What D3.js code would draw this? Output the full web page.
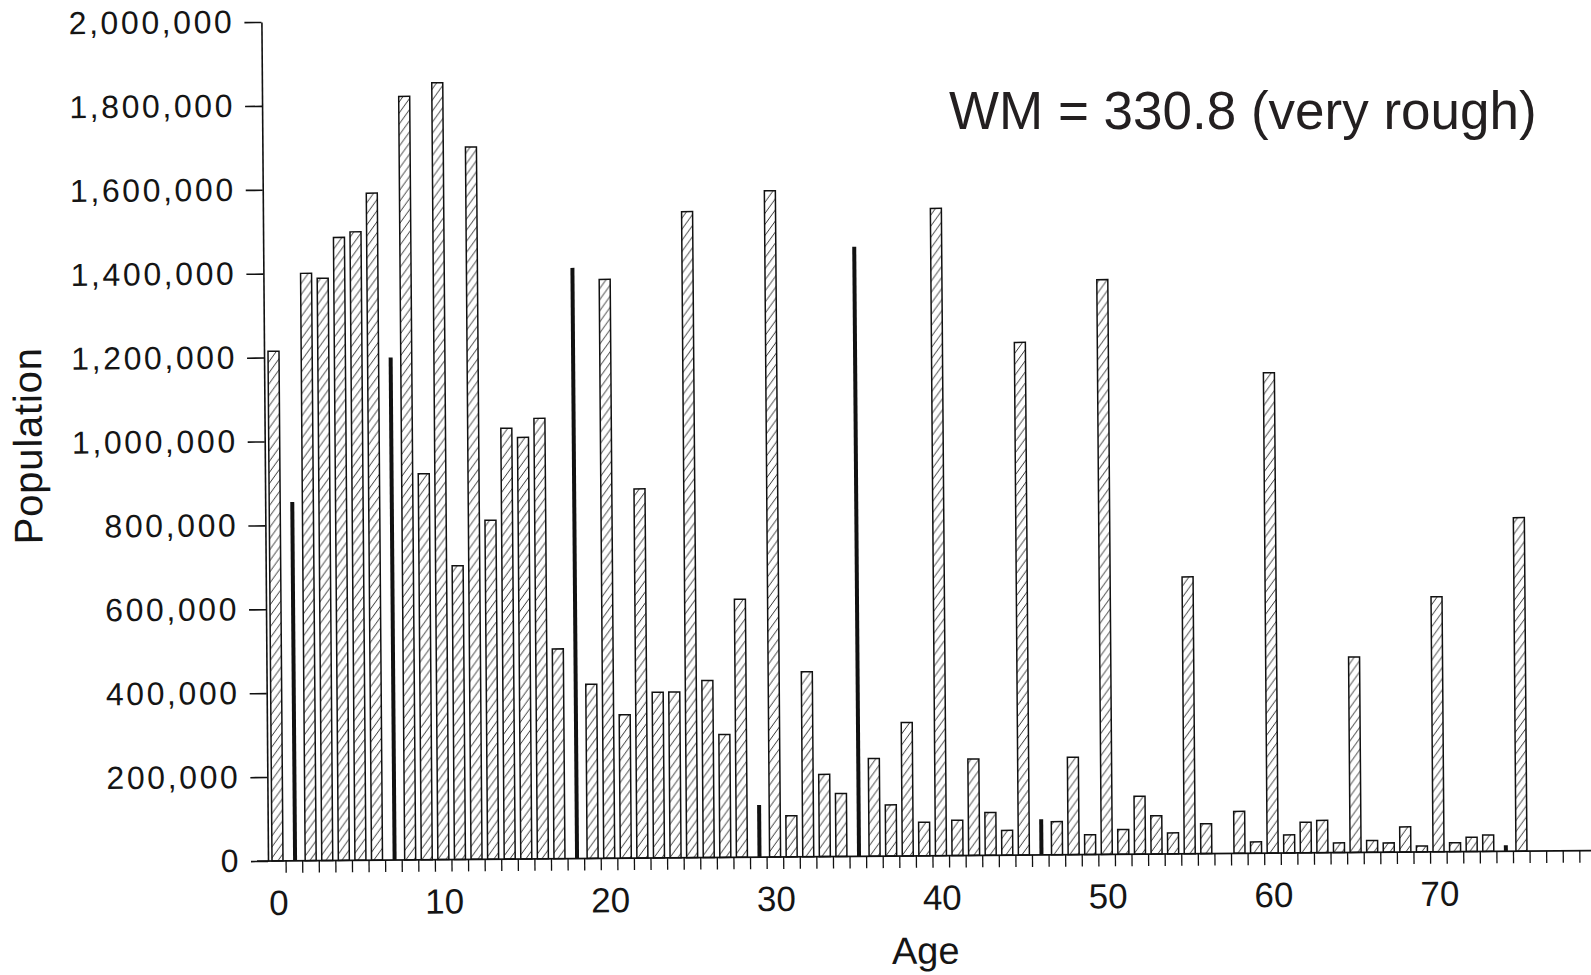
<!DOCTYPE html>
<html>
<head>
<meta charset="utf-8">
<script src="https://cdn.jsdelivr.net/npm/d3@7/dist/d3.min.js"></script>
<style>
  body { margin: 0; background: #fff; }
  svg text { font-family: "Liberation Sans", Arial, sans-serif; fill: #151515; }
</style>
</head>
<body>
<script>
// single years of age, last one is 75
let ages = [0, 1, 2, 3, 4, 5, 6, 7, 8, 9, 10, 11, 12, 13, 14, 15, 16, 17, 18, 19,
  20, 21, 22, 23, 24, 25, 26, 27, 28, 29, 30, 31, 32, 33, 34, 35, 36, 37, 38, 39,
  40, 41, 42, 43, 44, 45, 46, 47, 48, 49, 50, 51, 52, 53, 54, 55, 56, 57, 58, 59,
  60, 61, 62, 63, 64, 65, 66, 67, 68, 69, 70, 71, 72, 73, 74, 75];

let population = [1215000, 855000, 1400000, 1388000, 1485000, 1498000, 1590000, 1198000, 1820000, 920000,
  1852000, 700000, 1698000, 808000, 1027000, 1005000, 1050000, 500000, 1408000, 415000,
  1380000, 342000, 880000, 395000, 395000, 1540000, 422000, 293000, 615000, 124000,
  1588000, 98000, 441000, 196000, 150000, 1453000, 233000, 122000, 318000, 80000,
  1543000, 84000, 230000, 102000, 59000, 1222000, 85000, 79000, 232000, 47000,
  1370000, 59000, 138000, 91000, 50000, 660000, 71000, 0, 100000, 27000,
  1145000, 43000, 73000, 77000, 23000, 466000, 28000, 22000, 60000, 14000,
  608000, 21000, 34000, 39000, 14000, 795000];

// ages drawn as thin solid bars
let blackAges = [1, 7, 18, 29, 35, 46, 74];

let xLabels = [0, 10, 20, 30, 40, 50, 60, 70];
let yTicks = [0, 200000, 400000, 600000, 800000, 1000000, 1200000, 1400000, 1600000, 1800000, 2000000];

let width = 1591,
  height = 975,
  pivotX = 262,
  axisX = 268,
  axisY = 861,
  barWidth = 11,
  blackWidth = 4;

// x gives the left edge of each year's bar
let x = d3.scaleLinear().domain([0, 75]).range([272, 1516]);
let y = d3.scaleLinear().domain([0, 2000000]).range([axisY, 22]);

let svg = d3
  .select("body")
  .append("svg")
  .attr("width", width)
  .attr("height", height);

let defs = svg.append("defs");
let hatch = defs
  .append("pattern")
  .attr("id", "hatch")
  .attr("patternUnits", "userSpaceOnUse")
  .attr("width", 8)
  .attr("height", 11);
hatch.append("rect").attr("width", 8).attr("height", 11).attr("fill", "#fff");
hatch
  .append("path")
  .attr("d", "M0,11L8,0M-0.8,1.1L0.8,-1.1M7.2,12.1L8.8,9.9")
  .attr("stroke", "#1a1a1a")
  .attr("stroke-width", 0.9);

// the scan is tilted a little, so is the chart
let chart = svg
  .append("g")
  .attr("transform", "rotate(-0.45," + pivotX + "," + axisY + ")");

let rows = ages.map((a, i) => ({ age: a, value: population[i], black: blackAges.includes(a) }));

chart
  .append("g")
  .selectAll("rect")
  .data(rows.filter((d) => !d.black && d.value > 0))
  .enter()
  .append("rect")
  .attr("x", (d) => x(d.age))
  .attr("y", (d) => y(d.value))
  .attr("width", barWidth)
  .attr("height", (d) => axisY - y(d.value))
  .attr("fill", "url(#hatch)")
  .attr("stroke", "#111")
  .attr("stroke-width", 1.5);

chart
  .append("g")
  .selectAll("rect")
  .data(rows.filter((d) => d.black))
  .enter()
  .append("rect")
  .attr("x", (d) => x(d.age) + 6.5 - blackWidth / 2)
  .attr("y", (d) => y(d.value))
  .attr("width", blackWidth)
  .attr("height", (d) => axisY - y(d.value))
  .attr("fill", "#111");

// y axis
let yAxis = chart
  .append("g")
  .attr("transform", "translate(" + axisX + ",0)")
  .call(
    d3.axisLeft(y)
      .tickValues(yTicks)
      .tickSize(17)
      .tickSizeOuter(0)
      .tickPadding(10)
      .tickFormat(d3.format(","))
  );
yAxis.attr("font-family", null);
yAxis.select(".domain").attr("stroke", "#111").attr("stroke-width", 1.6);
yAxis.selectAll(".tick line").attr("stroke", "#111").attr("stroke-width", 1.6);
yAxis
  .selectAll(".tick text")
  .attr("font-size", 32)
  .attr("letter-spacing", 2.6)
  .attr("fill", "#151515");

// x axis: base line, one tick per year boundary, labels every ten years
chart
  .append("line")
  .attr("x1", pivotX - 5)
  .attr("x2", width + 20)
  .attr("y1", axisY)
  .attr("y2", axisY)
  .attr("stroke", "#111")
  .attr("stroke-width", 1.8);

let xAxis = chart
  .append("g")
  .attr("transform", "translate(-3," + axisY + ")")
  .call(
    d3.axisBottom(x)
      .tickValues(d3.range(1, 80))
      .tickSize(12)
      .tickSizeOuter(0)
      .tickFormat("")
  );
xAxis.select(".domain").remove();
xAxis.selectAll(".tick line").attr("stroke", "#111").attr("stroke-width", 1.3);

chart
  .append("g")
  .selectAll("text")
  .data(xLabels)
  .enter()
  .append("text")
  .attr("x", (d) => x(d) + barWidth / 2 + 1)
  .attr("y", axisY + 54)
  .attr("text-anchor", "middle")
  .attr("font-size", 35)
  .text((d) => d);

chart
  .append("text")
  .attr("x", 925)
  .attr("y", 969)
  .attr("text-anchor", "middle")
  .attr("font-size", 38)
  .text("Age");

chart
  .append("text")
  .attr("transform", "translate(45,444) rotate(-90)")
  .attr("text-anchor", "middle")
  .attr("font-size", 40)
  .attr("letter-spacing", 0.8)
  .text("Population");

svg
  .append("text")
  .attr("x", 949)
  .attr("y", 129)
  .attr("font-size", 53)
  .style("fill", "#231f20")
  .text("WM = 330.8 (very rough)");
</script>
</body>
</html>
